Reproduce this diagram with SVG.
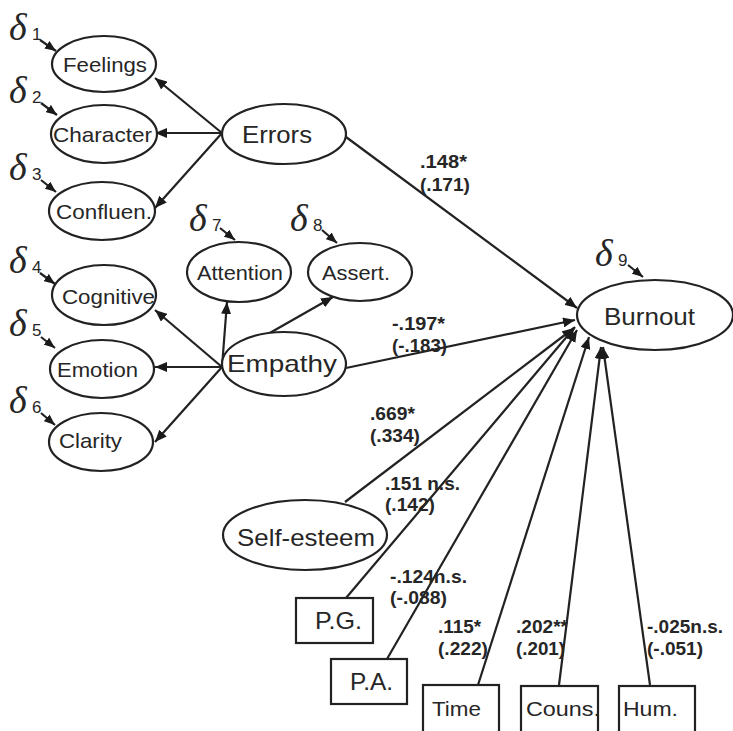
<svg xmlns="http://www.w3.org/2000/svg" width="733" height="731" viewBox="0 0 733 731">
<style>
.n{fill:#fff;stroke:#222;stroke-width:2.2}
.c{stroke:#222;stroke-width:2.2;fill:none;marker-end:url(#ah)}
.d{stroke:#222;stroke-width:2.2;fill:none;marker-end:url(#sh)}
.t{font-family:"Liberation Sans",Arial,sans-serif;fill:#262626}
.s{font-size:21px}
.b{font-size:24px}
.l{font-size:18px;font-weight:bold}
.dl{font-family:"Liberation Serif","DejaVu Serif",serif;font-style:italic;font-size:38px;fill:#262626}
.ds{font-family:"Liberation Sans",Arial,sans-serif;font-size:17px;fill:#262626}
</style>
<defs>
<marker id="ah" markerUnits="userSpaceOnUse" markerWidth="12" markerHeight="10" refX="12" refY="5" orient="auto"><path d="M0,0 L12,5 L0,10 z" fill="#1a1a1a"/></marker>
<marker id="sh" markerUnits="userSpaceOnUse" markerWidth="11" markerHeight="9" refX="11" refY="4.5" orient="auto"><path d="M0,0 L11,4.5 L0,9 z" fill="#1a1a1a"/></marker>
</defs>
<rect width="733" height="731" fill="#fff"/>

<g id="connectors">
<line class="c" x1="222" y1="133" x2="155" y2="78"/>
<line class="c" x1="222" y1="133" x2="155" y2="133"/>
<line class="c" x1="222" y1="133" x2="155" y2="208"/>
<line class="c" x1="222" y1="367" x2="155" y2="310"/>
<line class="c" x1="222" y1="367" x2="155" y2="367"/>
<line class="c" x1="222" y1="367" x2="155" y2="442"/>
<line class="c" x1="222" y1="367" x2="227" y2="302"/>
<line class="c" x1="268" y1="334" x2="333" y2="297"/>
<line class="c" x1="346" y1="137" x2="577" y2="308"/>
<line class="c" x1="346" y1="368" x2="575" y2="320"/>
<line class="c" x1="345" y1="502" x2="574" y2="328"/>
<line class="c" x1="346" y1="598" x2="575" y2="327"/>
<line class="c" x1="387" y1="659" x2="577" y2="330"/>
<line class="c" x1="478" y1="685" x2="589" y2="337"/>
<line class="c" x1="559" y1="685" x2="601" y2="347"/>
<line class="c" x1="650" y1="685" x2="603" y2="347"/>
<line class="d" x1="40" y1="40" x2="56" y2="51"/>
<line class="d" x1="41" y1="103" x2="57" y2="115"/>
<line class="d" x1="41" y1="180" x2="56" y2="192"/>
<line class="d" x1="40" y1="273" x2="55" y2="284"/>
<line class="d" x1="41" y1="337" x2="55" y2="348"/>
<line class="d" x1="41" y1="413" x2="55" y2="425"/>
<line class="d" x1="220" y1="228" x2="235" y2="240"/>
<line class="d" x1="322" y1="230" x2="337" y2="243"/>
<line class="d" x1="628" y1="265" x2="643" y2="277"/>
</g>

<g id="labels">
<text class="t l" x="420" y="168" textLength="47" lengthAdjust="spacingAndGlyphs">.148*</text>
<text class="t l" x="420" y="191" textLength="50" lengthAdjust="spacingAndGlyphs">(.171)</text>
<text class="t l" x="392" y="330" textLength="53" lengthAdjust="spacingAndGlyphs">-.197*</text>
<text class="t l" x="392" y="352" textLength="55" lengthAdjust="spacingAndGlyphs">(-.183)</text>
<text class="t l" x="370" y="420" textLength="45" lengthAdjust="spacingAndGlyphs">.669*</text>
<text class="t l" x="370" y="442" textLength="50" lengthAdjust="spacingAndGlyphs">(.334)</text>
<text class="t l" x="385" y="490" textLength="75" lengthAdjust="spacingAndGlyphs">.151 n.s.</text>
<text class="t l" x="385" y="511" textLength="50" lengthAdjust="spacingAndGlyphs">(.142)</text>
<text class="t l" x="390" y="583" textLength="77" lengthAdjust="spacingAndGlyphs">-.124n.s.</text>
<text class="t l" x="390" y="604" textLength="57" lengthAdjust="spacingAndGlyphs">(-.088)</text>
<text class="t l" x="438" y="633" textLength="43" lengthAdjust="spacingAndGlyphs">.115*</text>
<text class="t l" x="438" y="655" textLength="50" lengthAdjust="spacingAndGlyphs">(.222)</text>
<text class="t l" x="516" y="633" textLength="52" lengthAdjust="spacingAndGlyphs">.202**</text>
<text class="t l" x="516" y="655" textLength="49" lengthAdjust="spacingAndGlyphs">(.201)</text>
<text class="t l" x="647" y="633" textLength="76" lengthAdjust="spacingAndGlyphs">-.025n.s.</text>
<text class="t l" x="647" y="655" textLength="56" lengthAdjust="spacingAndGlyphs">(-.051)</text>
</g>

<g id="delta1"><text class="dl" x="9" y="40">δ</text><text class="ds" x="32" y="40">1</text></g>
<g id="delta2"><text class="dl" x="9" y="103">δ</text><text class="ds" x="32" y="103">2</text></g>
<g id="delta3"><text class="dl" x="9" y="180">δ</text><text class="ds" x="32" y="180">3</text></g>
<g id="delta4"><text class="dl" x="9" y="273">δ</text><text class="ds" x="32" y="273">4</text></g>
<g id="delta5"><text class="dl" x="9" y="336">δ</text><text class="ds" x="32" y="336">5</text></g>
<g id="delta6"><text class="dl" x="9" y="413">δ</text><text class="ds" x="32" y="413">6</text></g>
<g id="delta7"><text class="dl" x="189" y="231">δ</text><text class="ds" x="212" y="231">7</text></g>
<g id="delta8"><text class="dl" x="290" y="231">δ</text><text class="ds" x="313" y="231">8</text></g>
<g id="delta9"><text class="dl" x="595" y="266">δ</text><text class="ds" x="618" y="266">9</text></g>

<g id="feelings"><ellipse class="n" cx="104" cy="64" rx="52" ry="28"/><text class="t s" x="63" y="72" textLength="84" lengthAdjust="spacingAndGlyphs">Feelings</text></g>
<g id="character"><ellipse class="n" cx="104" cy="134" rx="53" ry="29"/><text class="t s" x="53" y="142" textLength="99" lengthAdjust="spacingAndGlyphs">Character</text></g>
<g id="confluen"><ellipse class="n" cx="102" cy="211" rx="53" ry="29"/><text class="t s" x="56" y="219" textLength="96" lengthAdjust="spacingAndGlyphs">Confluen.</text></g>
<g id="cognitive"><ellipse class="n" cx="104" cy="295" rx="52" ry="30"/><text class="t s" x="62" y="304" textLength="93" lengthAdjust="spacingAndGlyphs">Cognitive</text></g>
<g id="emotion"><ellipse class="n" cx="102" cy="369" rx="52" ry="29"/><text class="t s" x="57" y="377" textLength="81" lengthAdjust="spacingAndGlyphs">Emotion</text></g>
<g id="clarity"><ellipse class="n" cx="101" cy="442" rx="52" ry="29"/><text class="t s" x="59" y="448" textLength="63" lengthAdjust="spacingAndGlyphs">Clarity</text></g>
<g id="errors"><ellipse class="n" cx="284" cy="134" rx="62" ry="30"/><text class="t b" x="242" y="143" textLength="70" lengthAdjust="spacingAndGlyphs">Errors</text></g>
<g id="attention"><ellipse class="n" cx="239" cy="272" rx="52" ry="30"/><text class="t s" x="197" y="280" textLength="86" lengthAdjust="spacingAndGlyphs">Attention</text></g>
<g id="assert"><ellipse class="n" cx="360" cy="272" rx="52" ry="29"/><text class="t s" x="322" y="280" textLength="68" lengthAdjust="spacingAndGlyphs">Assert.</text></g>
<g id="empathy"><ellipse class="n" cx="284" cy="364" rx="62" ry="32"/><text class="t b" x="227" y="372" textLength="110" lengthAdjust="spacingAndGlyphs">Empathy</text></g>
<g id="burnout"><ellipse class="n" cx="655" cy="315" rx="78" ry="35"/><text class="t b" x="604" y="325" textLength="91" lengthAdjust="spacingAndGlyphs">Burnout</text></g>
<g id="selfesteem"><ellipse class="n" cx="305" cy="535" rx="82" ry="35"/><text class="t b" x="237" y="546" textLength="138" lengthAdjust="spacingAndGlyphs">Self-esteem</text></g>
<g id="pg"><rect class="n" x="296" y="598" width="77" height="45"/><text class="t b" x="315" y="629" textLength="47" lengthAdjust="spacingAndGlyphs">P.G.</text></g>
<g id="pa"><rect class="n" x="331" y="659" width="76" height="45"/><text class="t b" x="350" y="690" textLength="43" lengthAdjust="spacingAndGlyphs">P.A.</text></g>
<g id="time"><rect class="n" x="423" y="685" width="76" height="52"/><text class="t s" x="432" y="716" textLength="49" lengthAdjust="spacingAndGlyphs">Time</text></g>
<g id="couns"><rect class="n" x="521" y="686" width="77" height="52"/><text class="t s" x="526" y="716" textLength="74" lengthAdjust="spacingAndGlyphs">Couns.</text></g>
<g id="hum"><rect class="n" x="619" y="686" width="76" height="52"/><text class="t s" x="623" y="716" textLength="55" lengthAdjust="spacingAndGlyphs">Hum.</text></g>
</svg>
